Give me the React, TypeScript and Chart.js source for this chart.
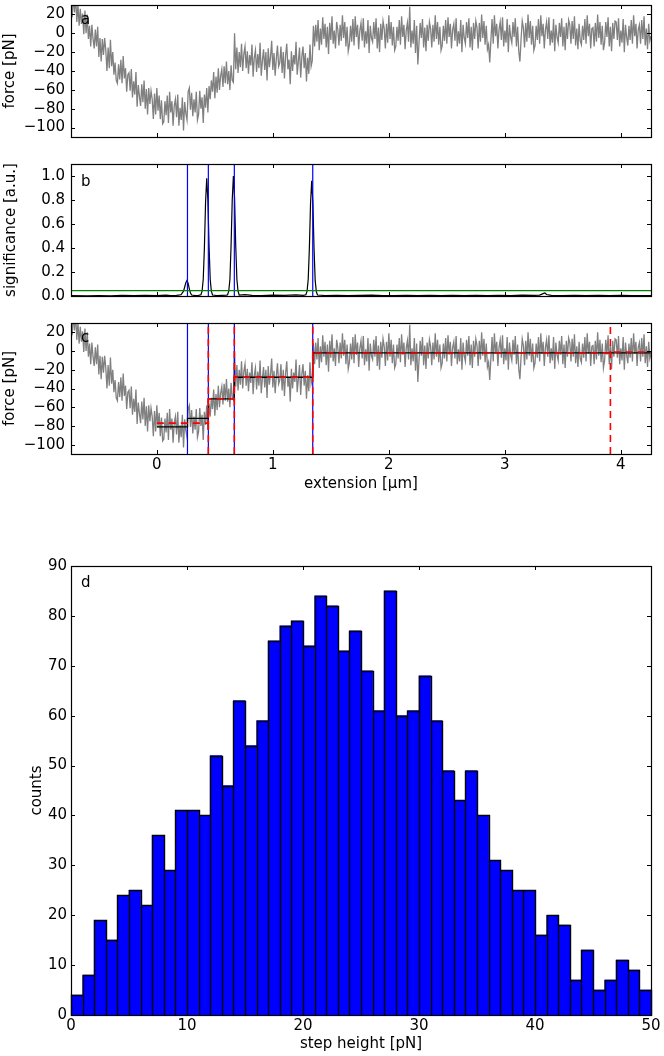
import React, { useEffect, useRef } from "react";
import { Chart, registerables } from "chart.js";

Chart.register(...registerables);

const FONT_FAMILY = "'DejaVu Sans', 'Liberation Sans', sans-serif";
const FONT_SIZE = 15;

// ---------- shared axis ranges / ticks ----------
const EXT_MIN = -0.74;
const EXT_MAX = 4.26;
const EXT_TICKS = [0, 1, 2, 3, 4];
const FORCE_MIN = -110;
const FORCE_MAX = 30;
const FORCE_TICKS = [-100, -80, -60, -40, -20, 0, 20];
const SIG_MIN = 0;
const SIG_MAX = 1.1;
const SIG_TICKS = [0, 0.2, 0.4, 0.6, 0.8, 1.0];

// ---------- force trace (panels a and c), sampled every 0.01 µm from -0.74 µm ----------
const TRACE_X0 = -0.74;
const TRACE_DX = 0.01;
const FORCE_TRACE = [
  37, 17, 40, 22, 41, 12, 30, 8, 26, 10,
  21, -1, 24, 0, 20, -6, 8, -14, 9, -6,
  -16, 4, -14, 7, -25, -5, -30, -6, -23, -5,
  -18, -40, -15, -37, -7, -35, -20, -44, -31, -50,
  -53, -33, -49, -28, -53, -24, -48, -37, -62, -44,
  -42, -61, -38, -68, -51, -65, -41, -78, -55, -67,
  -77, -54, -73, -50, -80, -59, -86, -58, -75, -61,
  -70, -91, -64, -86, -58, -82, -66, -91, -71, -96,
  -94, -72, -87, -66, -95, -62, -84, -72, -98, -77,
  -70, -89, -65, -98, -79, -92, -68, -103, -73, -85,
  -92, -62, -58, -81, -63, -88, -70, -84, -62, -92,
  -86, -61, -80, -68, -95, -65, -79, -58, -84, -56,
  -70, -50, -62, -41, -69, -46, -63, -37, -60, -45,
  -38, -57, -35, -53, -30, -54, -40, -60, -34, -50,
  -52, 0, -38, -15, -42, -20, -36, -11, -40, -22,
  -14, -37, -19, -43, -23, -34, -12, -46, -26, -18,
  -41, -22, -37, -10, -45, -29, -17, -39, -20, -50,
  -16, -36, -25, -8, -39, -21, -45, -27, -13, -35,
  -31, -14, -42, -20, -48, -24, -11, -38, -28, -54,
  -19, -40, -23, -33, -9, -44, -30, -15, -47, -25,
  -14, -37, -21, -51, -26, -43, -12, -35, -29, 8,
  -14, 9, -9, 14, -18, 5, -12, 17, -6, 10,
  -15, 7, -22, 11, -7, 18, -11, 3, -16, 12,
  4, -13, 9, -8, 19, -5, 12, -14, 7, -19,
  -12, 8, -9, 15, -13, 18, -4, 9, -17, 3,
  11, -8, 16, -15, 2, -11, 14, -21, 8, -5,
  -9, 12, -6, 16, -16, 6, -20, 10, -7, 13,
  5, -16, 10, -10, 19, -6, 12, -13, 7, -18,
  -14, 7, -8, 14, -12, 18, -4, 9, -17, 3,
  11, -9, 28, -15, 3, -11, 14, -21, 8, -33,
  -10, 11, -5, 15, -15, 6, -19, 9, -8, 12,
  5, -15, 9, -9, 19, -6, 12, -12, 7, -18,
  -13, 8, -8, 14, -11, 17, -4, 10, -16, 4,
  10, -8, 16, -14, 2, -11, 14, -20, 9, -5,
  -11, 12, -5, 16, -15, 7, -18, 11, -6, 13,
  6, -16, 11, -9, 20, -5, 13, -12, 8, -17,
  -12, -31, -7, 15, -11, 19, -3, 10, -16, 4,
  12, -7, 17, -14, 3, -10, 15, -20, 9, -4,
  -10, 12, -4, 16, -14, 7, -19, -30, -6, 13,
  6, -15, 11, -9, 20, -5, 13, -12, 8, -18,
  -13, 8, -7, 15, -11, 19, -3, 10, -16, 4,
  12, -6, 17, -13, 3, -10, 15, -19, 9, -4,
  -10, 11, -4, 16, -14, 7, -18, 11, -6, 14,
  9, -11, 13, -6, 18, -13, 5, -17, 10, -8,
  -12, 8, -7, 15, -11, 19, -3, 10, -16, 5,
  6, -14, 11, -9, 20, -5, 12, -12, 8, -18,
  -10, 12, -4, 17, -14, 7, -19, 11, -6, 13,
  12, -7, 16, -14, 3, -10, 15, -20, 9, -4,
  -13, 8, -7, 14, -11, 19, -3, 10, -16, 4,
  9, -11, 14, -6, 18, -13, 5, -17, 10, -8,
  -3,
];

// ---------- significance (panel b): [extension µm, significance a.u.] ----------
const SIGNIFICANCE: [number, number][] = [
  [-0.74, 0.003], [-0.6, 0.002], [-0.5, 0.004], [-0.4, 0.002], [-0.3, 0.005],
  [-0.2, 0.003], [-0.1, 0.006], [0.0, 0.004], [0.08, 0.008], [0.12, 0.004],
  [0.17, 0.006], [0.2, 0.01], [0.21, 0.012], [0.23, 0.04], [0.24, 0.075],
  [0.25, 0.11], [0.26, 0.13], [0.27, 0.105], [0.28, 0.06], [0.29, 0.025],
  [0.3, 0.008], [0.33, 0.004], [0.36, 0.006], [0.38, 0.01], [0.39, 0.04],
  [0.4, 0.14], [0.41, 0.4], [0.42, 0.78], [0.43, 0.98], [0.44, 0.8],
  [0.45, 0.42], [0.46, 0.14], [0.47, 0.04], [0.48, 0.008], [0.52, 0.004],
  [0.56, 0.006], [0.6, 0.008], [0.61, 0.01], [0.62, 0.04], [0.63, 0.14],
  [0.64, 0.42], [0.65, 0.8], [0.66, 1.0], [0.67, 0.82], [0.68, 0.42],
  [0.69, 0.14], [0.7, 0.04], [0.71, 0.008], [0.76, 0.012], [0.82, 0.006],
  [0.9, 0.004], [1.0, 0.007], [1.1, 0.005], [1.2, 0.009], [1.26, 0.006],
  [1.285, 0.01], [1.295, 0.04], [1.305, 0.14], [1.315, 0.4], [1.325, 0.77],
  [1.335, 0.96], [1.345, 0.78], [1.355, 0.4], [1.365, 0.13], [1.375, 0.035],
  [1.385, 0.008], [1.45, 0.004], [1.55, 0.006], [1.65, 0.003], [1.75, 0.005],
  [1.85, 0.007], [1.95, 0.004], [2.05, 0.003], [2.15, 0.006], [2.25, 0.004],
  [2.35, 0.005], [2.45, 0.003], [2.55, 0.006], [2.65, 0.004], [2.75, 0.005],
  [2.85, 0.003], [2.95, 0.006], [3.05, 0.004], [3.15, 0.007], [3.25, 0.005],
  [3.3, 0.008], [3.33, 0.02], [3.345, 0.025], [3.36, 0.012], [3.4, 0.005],
  [3.5, 0.004], [3.6, 0.006], [3.7, 0.003], [3.8, 0.005], [3.9, 0.004],
  [4.0, 0.006], [4.1, 0.004], [4.26, 0.003],
];
const SIG_THRESHOLD = 0.045;

// ---------- detected steps and fits (panels b and c) ----------
const DETECTED_STEPS = [0.264, 0.444, 0.668, 1.344];
const FIT_EDGES = [0, 0.264, 0.444, 0.668, 1.344, 4.26];
const FIT_LEVELS = [-81, -72, -51, -28, -2];
const REF_EDGES = [0, 0.444, 0.668, 1.344, 3.91, 4.26];
const REF_LEVELS = [-77, -51, -28, -2, -1];
const REF_BREAKS = [0.444, 0.668, 1.344, 3.91];

// ---------- histogram (panel d) ----------
const HIST_BIN_START = 0;
const HIST_BIN_WIDTH = 1;
const HIST_COUNTS = [
  4, 8, 19, 15, 24, 25, 22, 36, 29, 41,
  41, 40, 52, 46, 63, 54, 59, 75, 78, 79,
  74, 84, 82, 73, 77, 69, 61, 85, 60, 61,
  68, 59, 49, 43, 49, 40, 31, 29, 25, 25,
  16, 20, 18, 7, 13, 5, 7, 11, 9, 5,
];
const HIST_X_MIN = 0;
const HIST_X_MAX = 50;
const HIST_X_TICKS = [0, 10, 20, 30, 40, 50];
const HIST_Y_MIN = 0;
const HIST_Y_MAX = 90;
const HIST_Y_TICKS = [0, 10, 20, 30, 40, 50, 60, 70, 80, 90];

// ---------- helpers ----------
const tickFont = { family: FONT_FAMILY, size: FONT_SIZE };
const fmtInt = (v: number) => (v < 0 ? "\u2212" + Math.abs(v) : String(v));
const fmtOne = (v: number) => v.toFixed(1);

const panelDecor = {
  id: "panelDecor",
  afterDatasetsDraw(chart: any, _args: any, opts: any) {
    const { ctx, chartArea } = chart;
    const { left, right, top, bottom } = chartArea;
    const xs = chart.scales.x;
    const ys = chart.scales.y;
    ctx.save();
    ctx.strokeStyle = "#000";
    if (opts.barEdges) {
      ctx.lineWidth = 1.4;
      const base = Math.round(ys.getPixelForValue(0)) + 0.5;
      ctx.beginPath();
      HIST_COUNTS.forEach((c, i) => {
        const l = Math.round(xs.getPixelForValue(HIST_BIN_START + i * HIST_BIN_WIDTH)) + 0.5;
        const r = Math.round(xs.getPixelForValue(HIST_BIN_START + (i + 1) * HIST_BIN_WIDTH)) + 0.5;
        const t = Math.round(ys.getPixelForValue(c)) + 0.5;
        ctx.moveTo(l, base);
        ctx.lineTo(l, t);
        ctx.lineTo(r, t);
        ctx.lineTo(r, base);
      });
      ctx.stroke();
    }
    ctx.lineWidth = 1;
    const L = 4;
    ctx.beginPath();
    for (const v of opts.xTicks) {
      const px = Math.round(xs.getPixelForValue(v)) + 0.5;
      ctx.moveTo(px, bottom);
      ctx.lineTo(px, bottom - L);
      ctx.moveTo(px, top);
      ctx.lineTo(px, top + L);
    }
    for (const v of opts.yTicks) {
      const py = Math.round(ys.getPixelForValue(v)) + 0.5;
      ctx.moveTo(left, py);
      ctx.lineTo(left + L, py);
      ctx.moveTo(right, py);
      ctx.lineTo(right - L, py);
    }
    ctx.stroke();
    ctx.lineWidth = 1.2;
    ctx.strokeRect(
      Math.round(left) + 0.5,
      Math.round(top) + 0.5,
      Math.round(right - left),
      Math.round(bottom - top)
    );
    ctx.font = `${FONT_SIZE}px ${FONT_FAMILY}`;
    ctx.fillStyle = "#000";
    ctx.textBaseline = "alphabetic";
    ctx.textAlign = "left";
    ctx.fillText(opts.label, left + 10, top + opts.labelDy);
    ctx.restore();
  },
};

function xAxis(o: {
  min: number;
  max: number;
  ticks: number[];
  height: number;
  labels: boolean;
  title?: string;
  titlePad?: number;
}) {
  return {
    type: "linear",
    min: o.min,
    max: o.max,
    bounds: "data",
    offset: false,
    grid: { display: false, drawTicks: false, offset: false },
    border: { display: false },
    ticks: {
      display: o.labels,
      font: tickFont,
      color: "#000",
      padding: 2,
      maxRotation: 0,
      autoSkip: false,
      callback: (v: number) => fmtInt(v),
    },
    title: o.title
      ? {
          display: true,
          text: o.title,
          font: tickFont,
          color: "#000",
          padding: { top: 0, bottom: o.titlePad ?? 0 },
        }
      : { display: false },
    afterBuildTicks: (s: any) => {
      s.ticks = o.ticks.map((v) => ({ value: v }));
    },
    afterFit: (s: any) => {
      s.height = o.height;
      s.paddingLeft = 0;
      s.paddingRight = 0;
      s.paddingTop = 0;
      s.paddingBottom = 0;
    },
  };
}

function yAxis(o: {
  min: number;
  max: number;
  ticks: number[];
  fmt: (v: number) => string;
  title: string;
  titlePad: number;
  labelPad: number;
}) {
  return {
    type: "linear",
    min: o.min,
    max: o.max,
    bounds: "data",
    grid: { display: false, drawTicks: false },
    border: { display: false },
    ticks: {
      font: tickFont,
      color: "#000",
      padding: o.labelPad,
      autoSkip: false,
      callback: (v: number) => o.fmt(v),
    },
    title: {
      display: true,
      text: o.title,
      font: tickFont,
      color: "#000",
      padding: { top: o.titlePad, bottom: 0 },
    },
    afterBuildTicks: (s: any) => {
      s.ticks = o.ticks.map((v) => ({ value: v }));
    },
    afterFit: (s: any) => {
      s.width = 71;
      s.paddingLeft = 0;
      s.paddingRight = 0;
      s.paddingTop = 0;
      s.paddingBottom = 0;
    },
  };
}

const baseOptions = (top: number) => ({
  animation: false,
  responsive: false,
  maintainAspectRatio: false,
  devicePixelRatio: 1,
  events: [],
  layout: { padding: { left: 0, right: 13, top, bottom: 0 } },
});

const tracePoints = () =>
  FORCE_TRACE.map((f, i) => ({ x: TRACE_X0 + i * TRACE_DX, y: f }));

const traceDataset = () => ({
  data: tracePoints(),
  borderColor: "#808080",
  borderWidth: 1.3,
  pointRadius: 0,
  tension: 0,
  fill: false,
});

const verticals = (xs: number[], yMin: number, yMax: number, extra: any) =>
  xs.map((x) => ({
    data: [
      { x, y: yMin },
      { x, y: yMax },
    ],
    pointRadius: 0,
    fill: false,
    ...extra,
  }));

const stepPoints = (edges: number[], levels: number[]) => {
  const pts = levels.map((l, i) => ({ x: edges[i], y: l }));
  pts.push({ x: edges[edges.length - 1], y: levels[levels.length - 1] });
  return pts;
};

// ---------- configs ----------
function configA() {
  return {
    type: "line",
    data: { datasets: [traceDataset()] },
    options: {
      ...baseOptions(5),
      scales: {
        x: xAxis({ min: EXT_MIN, max: EXT_MAX, ticks: EXT_TICKS, height: 13, labels: false }),
        y: yAxis({
          min: FORCE_MIN,
          max: FORCE_MAX,
          ticks: FORCE_TICKS,
          fmt: fmtInt,
          title: "force [pN]",
          titlePad: 1,
          labelPad: 6,
        }),
      },
      plugins: {
        legend: { display: false },
        tooltip: { enabled: false },
        panelDecor: { xTicks: EXT_TICKS, yTicks: FORCE_TICKS, label: "a", labelDy: 19 },
      },
    },
    plugins: [panelDecor],
  };
}

function configB() {
  const blue = verticals(DETECTED_STEPS, SIG_MIN, SIG_MAX, {
    borderColor: "#0000ff",
    borderWidth: 1.2,
  });
  return {
    type: "line",
    data: {
      datasets: [
        {
          data: [
            { x: EXT_MIN, y: SIG_THRESHOLD },
            { x: EXT_MAX, y: SIG_THRESHOLD },
          ],
          borderColor: "#008000",
          borderWidth: 1.2,
          pointRadius: 0,
          fill: false,
        },
        ...blue,
        {
          data: SIGNIFICANCE.map(([x, y]) => ({ x, y })),
          borderColor: "#000",
          borderWidth: 1.2,
          pointRadius: 0,
          tension: 0,
          fill: false,
        },
      ],
    },
    options: {
      ...baseOptions(14),
      scales: {
        x: xAxis({ min: EXT_MIN, max: EXT_MAX, ticks: EXT_TICKS, height: 14, labels: false }),
        y: yAxis({
          min: SIG_MIN,
          max: SIG_MAX,
          ticks: SIG_TICKS,
          fmt: fmtOne,
          title: "significance [a.u.]",
          titlePad: 2,
          labelPad: 6,
        }),
      },
      plugins: {
        legend: { display: false },
        tooltip: { enabled: false },
        panelDecor: { xTicks: EXT_TICKS, yTicks: SIG_TICKS, label: "b", labelDy: 22 },
      },
    },
    plugins: [panelDecor],
  };
}

function configC() {
  const redDash = {
    borderColor: "#ff0000",
    borderWidth: 1.6,
    borderDash: [7, 5],
  };
  return {
    type: "line",
    data: {
      datasets: [
        { data: stepPoints(REF_EDGES, REF_LEVELS), pointRadius: 0, fill: false, stepped: true, ...redDash },
        ...verticals(REF_BREAKS, FORCE_MIN, FORCE_MAX, redDash),
        {
          data: stepPoints(FIT_EDGES, FIT_LEVELS),
          borderColor: "#000",
          borderWidth: 1.3,
          pointRadius: 0,
          stepped: true,
          fill: false,
        },
        ...verticals(DETECTED_STEPS, FORCE_MIN, FORCE_MAX, {
          borderColor: "#0000ff",
          borderWidth: 1.2,
        }),
        traceDataset(),
      ],
    },
    options: {
      ...baseOptions(13),
      scales: {
        x: xAxis({
          min: EXT_MIN,
          max: EXT_MAX,
          ticks: EXT_TICKS,
          height: 46,
          labels: true,
          title: "extension [\u00b5m]",
          titlePad: 7,
        }),
        y: yAxis({
          min: FORCE_MIN,
          max: FORCE_MAX,
          ticks: FORCE_TICKS,
          fmt: fmtInt,
          title: "force [pN]",
          titlePad: 1,
          labelPad: 6,
        }),
      },
      plugins: {
        legend: { display: false },
        tooltip: { enabled: false },
        panelDecor: { xTicks: EXT_TICKS, yTicks: FORCE_TICKS, label: "c", labelDy: 19 },
      },
    },
    plugins: [panelDecor],
  };
}

function configD() {
  return {
    type: "bar",
    data: {
      datasets: [
        {
          data: HIST_COUNTS.map((c, i) => ({
            x: HIST_BIN_START + (i + 0.5) * HIST_BIN_WIDTH,
            y: c,
          })),
          backgroundColor: "#0000ff",
          borderWidth: 0,
          barPercentage: 1,
          categoryPercentage: 1,
        },
      ],
    },
    options: {
      ...baseOptions(26),
      scales: {
        x: xAxis({
          min: HIST_X_MIN,
          max: HIST_X_MAX,
          ticks: HIST_X_TICKS,
          height: 41,
          labels: true,
          title: "step height [pN]",
          titlePad: 3,
        }),
        y: yAxis({
          min: HIST_Y_MIN,
          max: HIST_Y_MAX,
          ticks: HIST_Y_TICKS,
          fmt: fmtInt,
          title: "counts",
          titlePad: 28,
          labelPad: 4,
        }),
      },
      plugins: {
        legend: { display: false },
        tooltip: { enabled: false },
        panelDecor: {
          xTicks: HIST_X_TICKS,
          yTicks: HIST_Y_TICKS,
          label: "d",
          labelDy: 21,
          barEdges: true,
        },
      },
    },
    plugins: [panelDecor],
  };
}

function Panel({ top, height, make }: { top: number; height: number; make: () => any }) {
  const ref = useRef<HTMLCanvasElement | null>(null);
  useEffect(() => {
    const chart = new Chart(ref.current as HTMLCanvasElement, make());
    return () => chart.destroy();
  }, []);
  return (
    <canvas
      ref={ref}
      width={664}
      height={height}
      style={{ position: "absolute", left: 0, top, width: 664, height, display: "block" }}
    />
  );
}

export default function App() {
  return (
    <div
      style={{
        position: "absolute",
        left: 0,
        top: 0,
        width: 664,
        height: 1056,
        background: "#fff",
        overflow: "hidden",
      }}
    >
      <Panel top={0} height={150} make={configA} />
      <Panel top={150} height={160} make={configB} />
      <Panel top={310} height={190} make={configC} />
      <Panel top={540} height={516} make={configD} />
    </div>
  );
}
